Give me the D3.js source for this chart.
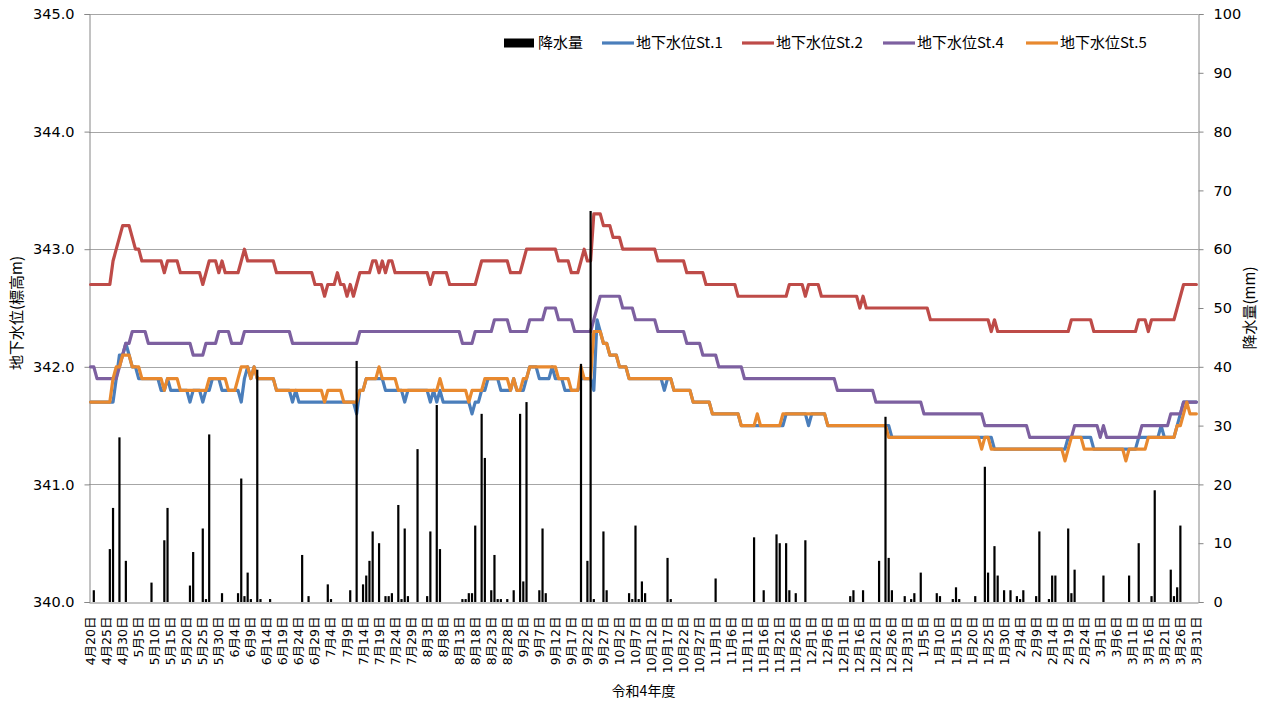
<!DOCTYPE html>
<html><head><meta charset="utf-8">
<script src="https://cdn.jsdelivr.net/npm/d3@7/dist/d3.min.js"></script>
<style>body{margin:0;background:#fff}text{fill:#000}</style>
</head><body>
<svg id="chart" width="1270" height="704"></svg>
<script>
// ---- data ----
// categories: every day of 令和4年度 from 4/20 to 3/31
const firstDay = [2022, 3, 20];   // 2022-04-20
const lastDay = [2023, 2, 31];    // 2023-03-31
const labelEvery = 5;
const levelTicks = [340, 341, 342, 343, 344, 345];
const rainTicks = [0, 10, 20, 30, 40, 50, 60, 70, 80, 90, 100];
const seriesNames = ["地下水位St.1", "地下水位St.2", "地下水位St.4", "地下水位St.5"];
const rainName = "降水量";

// water levels: [day index, level from that day on]
const st1Steps = [[0,341.7],[8,341.9],[9,342.1],[11,342.2],[12,342.1],[13,342.0],[15,341.9],[22,341.8],[24,341.9],[25,341.8],[31,341.7],[32,341.8],[35,341.7],[36,341.8],[38,341.9],[41,341.8],[47,341.7],[48,341.9],[49,342.0],[50,341.9],[51,342.0],[52,341.9],[58,341.8],[63,341.7],[64,341.8],[65,341.7],[83,341.6],[84,341.8],[86,341.9],[92,341.8],[98,341.7],[99,341.8],[106,341.7],[107,341.8],[108,341.7],[109,341.8],[110,341.7],[119,341.6],[120,341.7],[122,341.8],[124,341.9],[128,341.8],[132,341.9],[133,341.8],[136,341.9],[137,342.0],[140,341.9],[144,342.0],[145,341.9],[148,341.8],[153,341.9],[157,341.8],[158,342.4],[159,342.3],[160,342.2],[162,342.1],[165,342.0],[168,341.9],[179,341.8],[180,341.9],[182,341.8],[188,341.7],[194,341.6],[203,341.5],[217,341.6],[224,341.5],[225,341.6],[230,341.5],[250,341.4],[282,341.3],[305,341.4],[313,341.3],[327,341.4],[334,341.5],[335,341.4],[339,341.5],[340,341.6],[341,341.7]];
const st2Steps = [[0,342.7],[7,342.9],[8,343.0],[9,343.1],[10,343.2],[13,343.1],[14,343.0],[16,342.9],[23,342.8],[24,342.9],[28,342.8],[35,342.7],[36,342.8],[37,342.9],[40,342.8],[41,342.9],[42,342.8],[47,342.9],[48,343.0],[49,342.9],[58,342.8],[70,342.7],[73,342.6],[74,342.7],[77,342.8],[78,342.7],[80,342.6],[81,342.7],[82,342.6],[83,342.7],[84,342.8],[88,342.9],[90,342.8],[91,342.9],[92,342.8],[93,342.9],[95,342.8],[106,342.7],[107,342.8],[112,342.7],[121,342.8],[122,342.9],[131,342.8],[135,342.9],[136,343.0],[146,342.9],[150,342.8],[153,342.9],[154,343.0],[155,342.9],[157,343.3],[160,343.2],[163,343.1],[166,343.0],[177,342.9],[186,342.8],[192,342.7],[202,342.6],[218,342.7],[223,342.6],[224,342.7],[228,342.6],[240,342.5],[241,342.6],[242,342.5],[262,342.4],[281,342.3],[282,342.4],[283,342.3],[306,342.4],[313,342.3],[327,342.4],[330,342.3],[331,342.4],[339,342.5],[340,342.6],[341,342.7]];
const st4Steps = [[0,342.0],[2,341.9],[9,342.0],[10,342.1],[11,342.2],[13,342.3],[18,342.2],[32,342.1],[36,342.2],[40,342.3],[44,342.2],[48,342.3],[63,342.2],[84,342.3],[116,342.2],[120,342.3],[126,342.4],[131,342.3],[137,342.4],[142,342.5],[146,342.4],[151,342.3],[157,342.4],[158,342.5],[159,342.6],[166,342.5],[170,342.4],[177,342.3],[186,342.2],[191,342.1],[196,342.0],[204,341.9],[233,341.8],[245,341.7],[260,341.6],[279,341.5],[293,341.4],[307,341.5],[315,341.4],[316,341.5],[317,341.4],[328,341.5],[337,341.6],[341,341.7]];
const st5Steps = [[0,341.7],[7,341.9],[8,342.0],[10,342.1],[13,342.0],[16,341.9],[23,341.8],[24,341.9],[28,341.8],[37,341.9],[43,341.8],[46,341.9],[47,342.0],[50,341.9],[51,342.0],[52,341.9],[58,341.8],[73,341.7],[74,341.8],[79,341.7],[84,341.8],[86,341.9],[90,342.0],[91,341.9],[96,341.8],[109,341.9],[110,341.8],[118,341.7],[119,341.8],[123,341.9],[131,341.8],[132,341.9],[133,341.8],[135,341.9],[137,342.0],[146,341.9],[150,341.8],[153,342.0],[154,341.9],[157,342.3],[160,342.2],[162,342.1],[165,342.0],[168,341.9],[182,341.8],[188,341.7],[194,341.6],[203,341.5],[208,341.6],[209,341.5],[216,341.6],[230,341.5],[249,341.4],[278,341.3],[279,341.4],[281,341.3],[304,341.2],[305,341.3],[306,341.4],[310,341.3],[323,341.2],[324,341.3],[330,341.4],[339,341.5],[341,341.6],[342,341.7],[343,341.6]];

// daily rainfall (mm): [day index, amount]; other days 0
const rainDays = [[1,2],[6,9],[7,16],[9,28],[11,7],[19,3.3],[23,10.5],[24,16],[31,2.8],[32,8.5],[35,12.5],[36,0.5],[37,28.5],[41,1.5],[46,1.5],[47,21],[48,1],[49,5],[50,0.5],[52,39.5],[53,0.5],[56,0.5],[66,8],[68,1],[74,3],[75,0.5],[81,2],[83,41],[85,3],[86,4.5],[87,7],[88,12],[90,10],[92,1],[93,1],[94,1.5],[96,16.5],[97,0.5],[98,12.5],[99,1],[102,26],[105,1],[106,12],[108,33.5],[109,9],[116,0.5],[117,0.5],[118,1.5],[119,1.5],[120,13],[122,32],[123,24.5],[125,2],[126,8],[127,0.5],[128,0.5],[130,0.5],[132,2],[134,32],[135,3.5],[136,34],[140,2],[141,12.5],[142,1.5],[153,40.5],[155,7],[156,66.5],[157,0.5],[160,12],[161,2],[168,1.5],[169,0.5],[170,13],[171,0.5],[172,3.5],[173,1.5],[180,7.5],[181,0.5],[195,4],[207,11],[210,2],[214,11.5],[215,10],[217,10],[218,2],[220,1.5],[223,10.5],[237,1],[238,2],[241,2],[246,7],[248,31.5],[249,7.5],[250,2],[254,1],[256,0.5],[257,1.5],[259,5],[264,1.5],[265,1],[269,0.5],[270,2.5],[271,0.5],[276,1],[279,23],[280,5],[282,9.5],[283,4.5],[285,2],[287,2],[289,1],[290,0.5],[291,2],[295,1],[296,12],[299,0.5],[300,4.5],[301,4.5],[305,12.5],[306,1.5],[307,5.5],[316,4.5],[324,4.5],[327,10],[331,1],[332,19],[337,5.5],[338,1],[339,2.5],[340,13]];

// ---- chart ----
const colors = {st1:"#4A7EBB", st2:"#BE4B48", st4:"#7D60A0", st5:"#E8892F", rain:"#000", grid:"#A6A6A6", axis:"#868686"};
const numFont = "'DejaVu Sans', 'Noto Sans CJK JP', sans-serif";
const cjkFont = "'Noto Sans CJK JP', 'DejaVu Sans', sans-serif";

const dates = d3.timeDay.range(new Date(...firstDay), d3.timeDay.offset(new Date(...lastDay), 1));
const idx = d3.range(dates.length);
const dateLabel = d => `${d.getMonth() + 1}月${d.getDate()}日`;

function expand(steps) {
  return idx.map(i => { let v = steps[0][1]; for (const [d, val] of steps) { if (d <= i) v = val; else break; } return v; });
}
const series = [
  {name: seriesNames[0], color: colors.st1, values: expand(st1Steps)},
  {name: seriesNames[1], color: colors.st2, values: expand(st2Steps)},
  {name: seriesNames[2], color: colors.st4, values: expand(st4Steps)},
  {name: seriesNames[3], color: colors.st5, values: expand(st5Steps)}
];
const rain = idx.map(() => 0);
rainDays.forEach(([d, v]) => { rain[d] = v; });

const M = {left: 89, right: 1198, top: 14, bottom: 602};
const svg = d3.select("#chart");
const x = d3.scaleBand().domain(idx).range([M.left, M.right]).padding(0);
const cx = i => x(i) + x.bandwidth() / 2;
const yL = d3.scaleLinear().domain([levelTicks[0], levelTicks[levelTicks.length - 1]]).range([M.bottom, M.top]);
const yR = d3.scaleLinear().domain([rainTicks[0], rainTicks[rainTicks.length - 1]]).range([M.bottom, M.top]);

// gridlines
svg.append("g").selectAll("line").data(levelTicks.slice(1)).join("line")
  .attr("x1", M.left).attr("x2", M.right)
  .attr("y1", d => Math.round(yL(d)) + 0.5).attr("y2", d => Math.round(yL(d)) + 0.5)
  .attr("stroke", colors.grid).attr("stroke-width", 1);

// left axis
const axL = svg.append("g").attr("transform", `translate(${M.left + 0.5},0)`)
  .call(d3.axisLeft(yL).tickValues(levelTicks).tickFormat(d3.format(".1f")).tickSize(5).tickPadding(10));
axL.select(".domain").attr("stroke", colors.axis);
axL.selectAll(".tick line").attr("stroke", colors.axis);
axL.selectAll(".tick text").attr("font-family", numFont).attr("font-size", 14.5).attr("fill", "#000");

// right axis
const axR = svg.append("g").attr("transform", `translate(${M.right + 0.5},0)`)
  .call(d3.axisRight(yR).tickValues(rainTicks).tickSize(5).tickPadding(10));
axR.select(".domain").attr("stroke", colors.axis);
axR.selectAll(".tick line").attr("stroke", colors.axis);
axR.selectAll(".tick text").attr("font-family", numFont).attr("font-size", 14.5).attr("fill", "#000");

// bottom axis
const axB = svg.append("g").attr("transform", `translate(0,${M.bottom + 0.5})`)
  .call(d3.axisBottom(x).tickValues(idx.filter(i => i % labelEvery === 0)).tickSize(0).tickFormat(i => dateLabel(dates[i])));
axB.select(".domain").attr("stroke", colors.axis);
axB.selectAll(".tick text")
  .attr("font-family", numFont).attr("font-size", 12.5).attr("fill", "#000")
  .attr("text-anchor", "end").attr("transform", "rotate(-90)")
  .attr("x", -14).attr("y", 0).attr("dy", "0.36em");

// lines
const line = d3.line().x((v, i) => cx(i)).y(v => yL(v));
svg.append("g").selectAll("path").data(series).join("path")
  .attr("d", s => line(s.values)).attr("fill", "none")
  .attr("stroke", s => s.color).attr("stroke-width", 3.2)
  .attr("stroke-linejoin", "round").attr("stroke-linecap", "round");

// rain bars (secondary axis, drawn in front)
const barW = 2.2;
svg.append("g").selectAll("rect").data(idx.filter(i => rain[i] > 0)).join("rect")
  .attr("x", i => cx(i) - barW / 2).attr("width", barW)
  .attr("y", i => yR(rain[i])).attr("height", i => yR(0) - yR(rain[i]))
  .attr("fill", colors.rain);

// axis titles
svg.append("text").attr("transform", `translate(22,${(M.top + M.bottom) / 2 + 5}) rotate(-90)`)
  .attr("text-anchor", "middle").attr("font-family", cjkFont).attr("font-size", 15).text("地下水位(標高m)");
svg.append("text").attr("transform", `translate(1255,${(M.top + M.bottom) / 2}) rotate(-90)`)
  .attr("text-anchor", "middle").attr("font-family", cjkFont).attr("font-size", 15).text("降水量(mm)");
svg.append("text").attr("x", (M.left + M.right) / 2).attr("y", 696)
  .attr("text-anchor", "middle").attr("font-family", cjkFont).attr("font-size", 14).text("令和4年度");

// legend
const lg = svg.append("g").attr("font-family", cjkFont).attr("font-size", 15);
const legendItems = [
  {name: rainName, color: colors.rain, type: "bar", x: 504},
  {name: series[0].name, color: series[0].color, type: "line", x: 602},
  {name: series[1].name, color: series[1].color, type: "line", x: 742},
  {name: series[2].name, color: series[2].color, type: "line", x: 883},
  {name: series[3].name, color: series[3].color, type: "line", x: 1026}
];
const ly = 43;
legendItems.forEach(it => {
  if (it.type === "bar") lg.append("rect").attr("x", it.x).attr("y", ly - 4.5).attr("width", 30).attr("height", 9).attr("fill", it.color);
  else lg.append("line").attr("x1", it.x).attr("x2", it.x + 32).attr("y1", ly).attr("y2", ly).attr("stroke", it.color).attr("stroke-width", 3.2);
  lg.append("text").attr("x", it.x + (it.type === "bar" ? 34 : 34)).attr("y", ly).attr("dy", "0.35em").text(it.name);
});
</script>
</body></html>
